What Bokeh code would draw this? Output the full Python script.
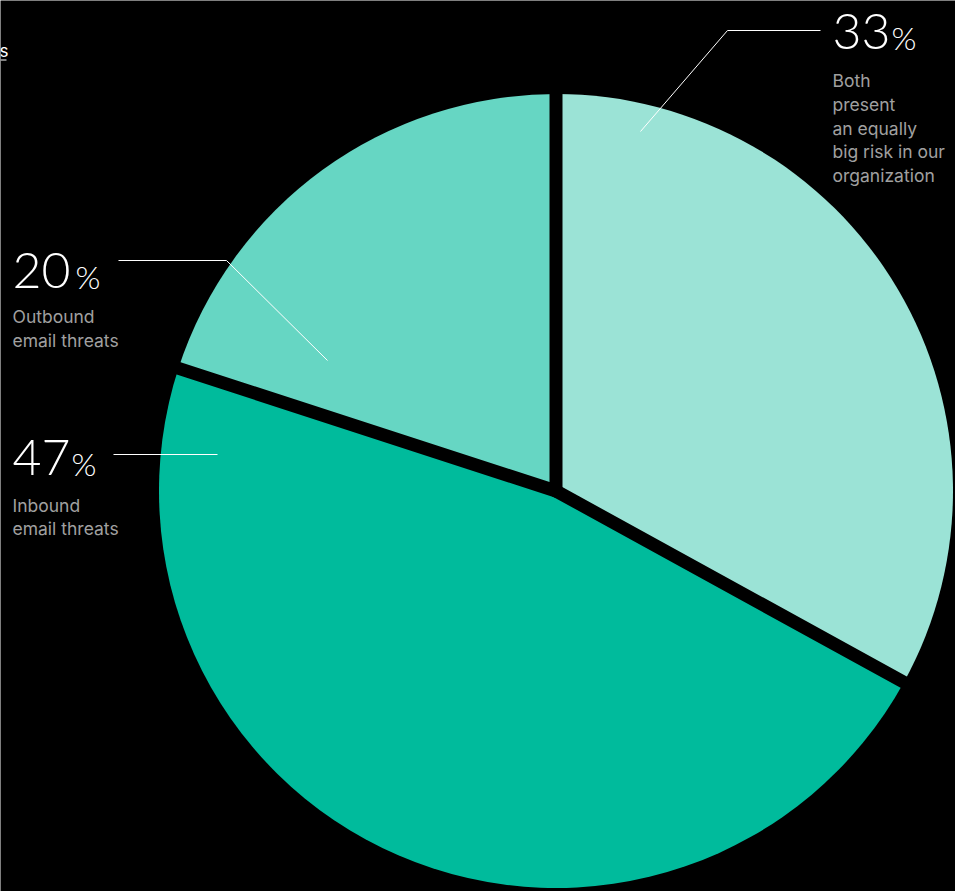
import math
from bokeh.plotting import figure
from bokeh.models import Range1d
from bokeh.core.properties import value
from bokeh.embed import file_html
from bokeh.resources import INLINE

# ---- data ----
categories = ["Both present an equally big risk in our organization",
              "Inbound email threats", "Outbound email threats"]
shares = [33, 47, 20]
pct_labels = ["33", "47", "20"]
desc_lines = [["Both", "present", "an equally", "big risk in our", "organization"],
              ["Inbound", "email threats"],
              ["Outbound", "email threats"]]
colors = ["#9be3d6", "#00bb9c", "#66d6c3"]

# ---- layout (pixel space, y measured from top) ----
W, H = 955, 891
CX, CY, R = 555.5, 490.5, 397
GAP = 13
NUM_FONT = value("Lato Light, Lato")
DESC_FONT = value("Inter")
NUM_SHIFT = 19   # renderer baseline offset compensation
DESC_SHIFT = 7

def Y(y):
    return H - y

p = figure(width=W, height=H, output_backend="svg", toolbar_location=None,
           x_range=Range1d(0, W), y_range=Range1d(0, H), min_border=0)
p.axis.visible = False
p.grid.visible = False
p.outline_line_color = None
p.background_fill_color = "black"
p.border_fill_color = "black"

# wedges clockwise from 12 o'clock
total = sum(shares)
cum = 0.0
starts, ends = [], []
for s in shares:
    a0 = math.pi / 2 - 2 * math.pi * cum / total
    cum += s
    a1 = math.pi / 2 - 2 * math.pi * cum / total
    starts.append(a0)
    ends.append(a1)
p.wedge(x=[CX] * 3, y=[Y(CY)] * 3, radius=R, start_angle=starts, end_angle=ends,
        direction="clock", fill_color=colors, line_color=None)

# black gaps at slice boundaries
bx0, by0, bx1, by1 = [], [], [], []
for a in starts:
    bx0.append(CX); by0.append(Y(CY))
    bx1.append(CX + (R + 20) * math.cos(a)); by1.append(Y(CY) + (R + 20) * math.sin(a))
p.segment(x0=bx0, y0=by0, x1=bx1, y1=by1, line_color="black", line_width=GAP,
          line_cap="round")

# label layout: (num_x, num_baseline, pct_x, desc_baseline, connector points)
layout = [
    (832, 50, 891, 87, [(640, 131), (727, 30), (820, 30)]),
    (12, 476, 71, 511.5, [(113, 454), (217, 454)]),
    (12, 289, 75, 323, [(118, 260), (226, 260), (327, 360)]),
]

for i, (nx, nb, px, db, pts) in enumerate(layout):
    p.text(x=[nx], y=[Y(nb - NUM_SHIFT)], text=[pct_labels[i]], text_color="white",
           text_font=NUM_FONT, text_font_size="50px", text_baseline="alphabetic",
           text_align="left")
    p.text(x=[px], y=[Y(nb - NUM_SHIFT * 0.6 - 2)], text=["%"], text_color="white",
           text_font=NUM_FONT, text_font_size="32px", text_baseline="alphabetic",
           text_align="left")
    lines = desc_lines[i]
    p.text(x=[nx] * len(lines),
           y=[Y(db - DESC_SHIFT + 23.8 * k) for k in range(len(lines))],
           text=lines, text_color="#a0a0a0", text_font=DESC_FONT,
           text_font_size="17.5px", text_baseline="alphabetic", text_align="left")
    p.line(x=[q[0] for q in pts], y=[Y(q[1]) for q in pts], line_color="white",
           line_width=1)

# clipped link text at top-left
p.text(x=[-1], y=[Y(57 - DESC_SHIFT)], text=["s"], text_color="white",
       text_font=DESC_FONT, text_font_size="17px", text_baseline="alphabetic",
       text_align="left")
p.line(x=[0, 6], y=[Y(59.5), Y(59.5)], line_color="white", line_width=1.2)

open("out.html", "w").write(file_html(p, INLINE))
